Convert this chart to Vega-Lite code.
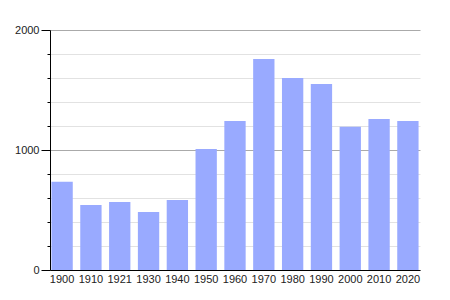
{
  "$schema": "https://vega.github.io/schema/vega-lite/v6.json",
  "autosize": "none",
  "padding": {"left": 50, "top": 30, "right": 30, "bottom": 30},
  "width": 370,
  "height": 240,
  "background": "white",
  "config": {"view": {"stroke": null}, "font": "Liberation Sans"},
  "data": {"values": [
    {"year": "1900", "pop": 736},
    {"year": "1910", "pop": 542},
    {"year": "1921", "pop": 567},
    {"year": "1930", "pop": 483},
    {"year": "1940", "pop": 583},
    {"year": "1950", "pop": 1008},
    {"year": "1960", "pop": 1242},
    {"year": "1970", "pop": 1758},
    {"year": "1980", "pop": 1600},
    {"year": "1990", "pop": 1550},
    {"year": "2000", "pop": 1194},
    {"year": "2010", "pop": 1258},
    {"year": "2020", "pop": 1242}
  ]},
  "mark": {"type": "bar", "color": "#99aaff"},
  "encoding": {
    "x": {
      "field": "year", "type": "ordinal", "sort": null,
      "scale": {"paddingInner": 0.26, "paddingOuter": 0.05},
      "axis": {
        "title": null, "labelAngle": 0, "ticks": false, "labelPadding": 3,
        "labelFontSize": 11, "labelColor": "#222222",
        "domainColor": "#000000", "domainWidth": 1
      }
    },
    "y": {
      "field": "pop", "type": "quantitative",
      "scale": {"domain": [0, 2000], "nice": false},
      "axis": {
        "title": null, "format": "d",
        "values": [0, 200, 400, 600, 800, 1000, 1200, 1400, 1600, 1800, 2000],
        "labelExpr": "datum.value % 1000 === 0 ? datum.label : ''",
        "labelFontSize": 11, "labelColor": "#222222", "labelPadding": 2,
        "tickColor": "#000000",
        "tickSize": {"condition": {"test": "datum.value % 1000 === 0", "value": 9}, "value": 3},
        "domainColor": "#000000", "domainWidth": 1,
        "grid": true,
        "gridColor": {"condition": {"test": "datum.value % 1000 === 0", "value": "#aaaaaa"}, "value": "#e2e2e2"}
      }
    }
  }
}
